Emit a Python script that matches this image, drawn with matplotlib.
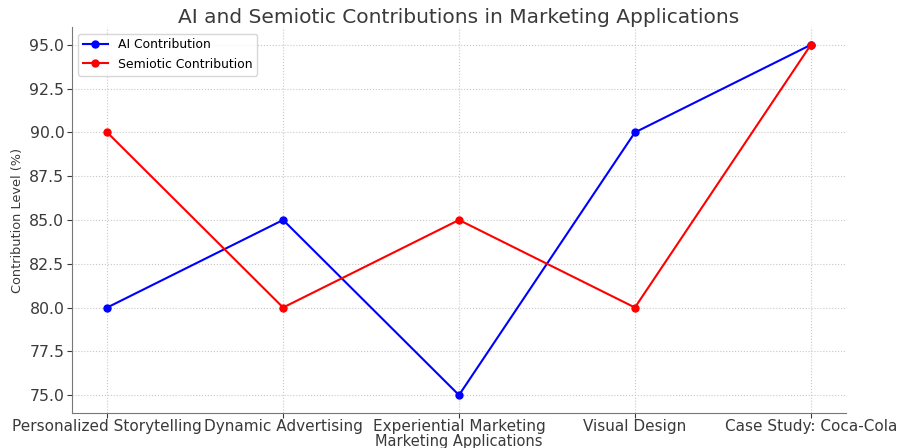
import matplotlib
matplotlib.use("Agg")
import matplotlib.pyplot as plt

categories = ["Personalized Storytelling", "Dynamic Advertising", "Experiential Marketing",
              "Visual Design", "Case Study: Coca-Cola"]
ai_contribution = [80, 85, 75, 90, 95]
semiotic_contribution = [90, 80, 85, 80, 95]

plt.rcParams['font.family'] = ['DejaVu Sans']
txt = '#3a3a3a'

fig = plt.figure(figsize=(9, 4.48), dpi=100)
ax = fig.add_axes([0.08, 0.079, 0.86, 0.86])

ax.plot(categories, ai_contribution, color='blue', marker='o', markersize=5, linewidth=1.5,
        label='AI Contribution')
ax.plot(categories, semiotic_contribution, color='red', marker='o', markersize=5, linewidth=1.5,
        label='Semiotic Contribution')

ax.set_title('AI and Semiotic Contributions in Marketing Applications', fontsize=14.5, color=txt, pad=3)
ax.set_xlabel('Marketing Applications', fontsize=10.5, color=txt, labelpad=0)
ax.set_ylabel('Contribution Level (%)', fontsize=9.3, color=txt, labelpad=4)
ax.tick_params(axis='y', labelsize=11.3, colors=txt, pad=2)
ax.tick_params(axis='x', labelsize=11, colors=txt, pad=1)
ax.grid(True, linestyle=':', color='#c8c8c8', linewidth=0.8)
for s in ['top', 'right']:
    ax.spines[s].set_visible(False)
for s in ['left', 'bottom']:
    ax.spines[s].set_color('#777777')
ax.legend(loc='upper left', fontsize=8.9, frameon=True, handlelength=2)

fig.savefig('out.png', dpi=100)
